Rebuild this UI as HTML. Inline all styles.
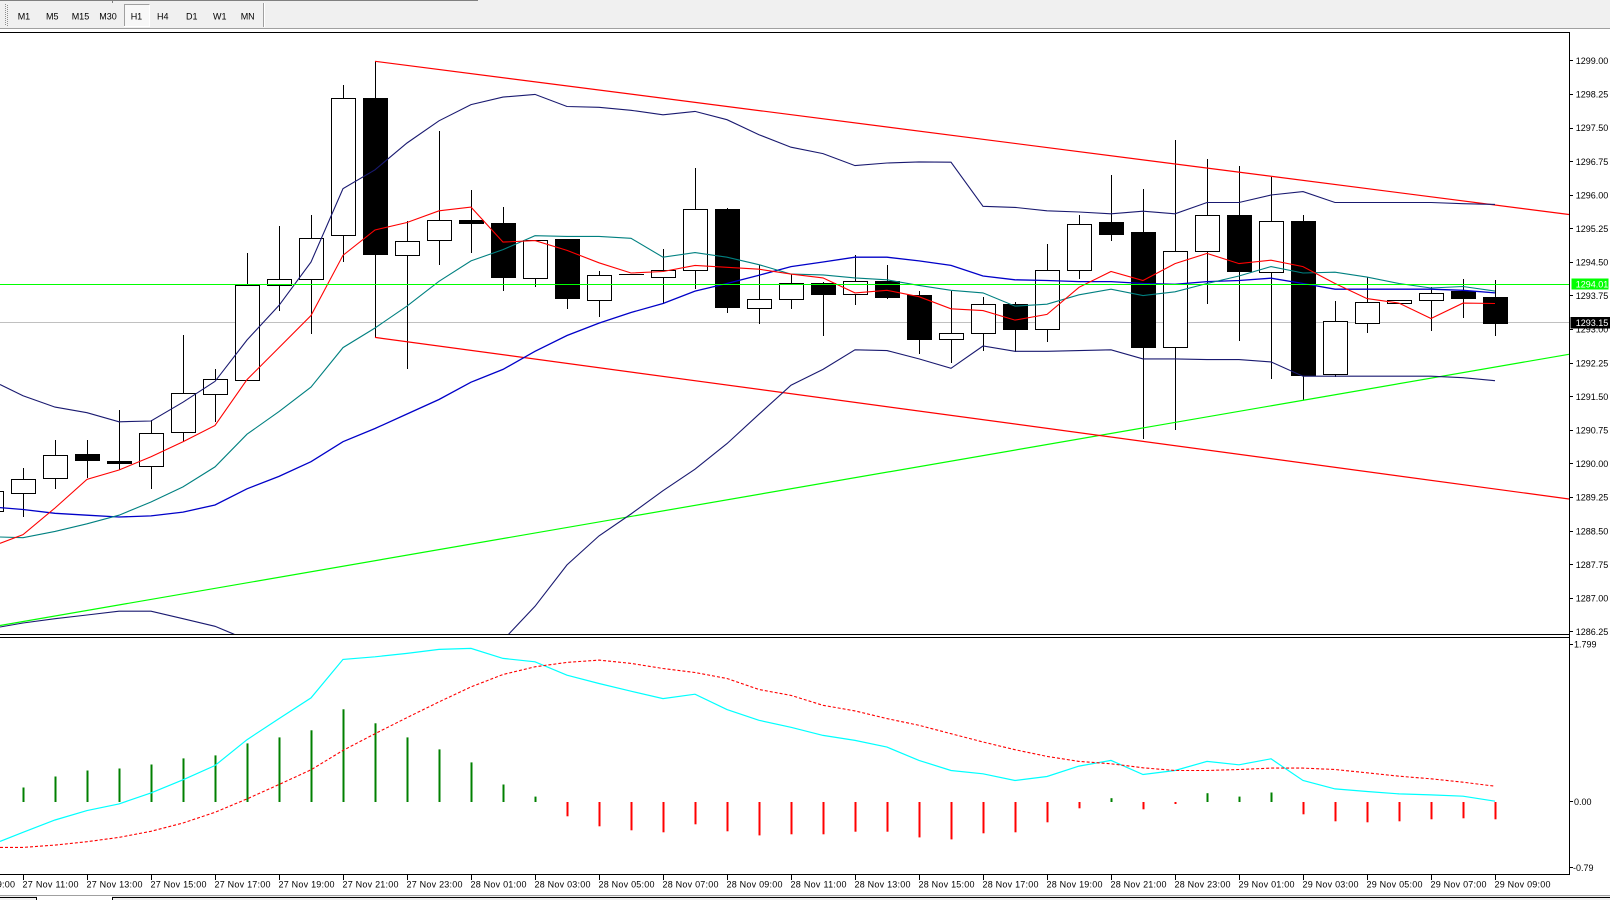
<!DOCTYPE html>
<html><head><meta charset="utf-8"><style>
html,body{margin:0;padding:0;background:#fff;}
svg{display:block;}
text{font-family:"Liberation Sans",Arial,sans-serif;font-size:9px;fill:#000;}
.w{fill:#fff;stroke:#000;stroke-width:1;}
.b{fill:#000;stroke:#000;stroke-width:1;}
</style></head><body>
<svg width="1610" height="900" viewBox="0 0 1610 900" xmlns="http://www.w3.org/2000/svg">
<defs>
<clipPath id="cm"><rect x="0" y="33" width="1569" height="601"/></clipPath>
<clipPath id="ci"><rect x="0" y="638" width="1569" height="236"/></clipPath>
</defs>
<rect x="0" y="0" width="1610" height="900" fill="#fff"/>
<!-- toolbar -->
<rect x="0" y="0" width="1610" height="28" fill="#f0f0f0"/>
<rect x="0" y="0" width="478" height="1" fill="#808080"/>
<rect x="112" y="0" width="1" height="3" fill="#808080"/>
<rect x="0" y="28" width="1610" height="1" fill="#a0a0a0"/>
<path d="M5.5 4V26M7.5 5V26" stroke="#909090" stroke-width="1" stroke-dasharray="1,1"/>
<rect x="124.5" y="4.5" width="25" height="22" fill="#f8f8f8" stroke="#fff"/>
<path d="M124.5 26V4.5H149.5" fill="none" stroke="#a0a0a0"/>
<rect x="263" y="3" width="1" height="24" fill="#a0a0a0"/>
<rect x="264" y="3" width="1" height="24" fill="#fff"/>
<g>
<text x="17.7" y="19.3">M1</text>
<text x="46" y="19.3">M5</text>
<text x="71.7" y="19.3">M15</text>
<text x="99.3" y="19.3">M30</text>
<text x="130.7" y="19.3">H1</text>
<text x="157" y="19.3">H4</text>
<text x="186" y="19.3">D1</text>
<text x="213" y="19.3">W1</text>
<text x="240.7" y="19.3">MN</text>
</g>
<!-- frame -->
<rect x="0" y="32" width="1570" height="1" fill="#000"/>
<rect x="1569" y="32" width="1" height="843" fill="#000"/>
<rect x="0" y="634" width="1570" height="1" fill="#000"/>
<rect x="0" y="637" width="1570" height="1" fill="#000"/>
<rect x="0" y="874" width="1570" height="1" fill="#000"/>

<!-- main chart -->
<g clip-path="url(#cm)">
<line x1="0" y1="322.5" x2="1569" y2="322.5" stroke="#c0c0c0" stroke-width="1"/>
<path fill="none" stroke="#000" stroke-width="1" d="M-8.5 480V520M23.5 468V517M55.5 440V489M87.5 440V478M119.5 410V470M151.5 420V489M183.5 335V442M215.5 369V422M247.5 253V380M279.5 226V311M311.5 215V334M343.5 85V262M375.5 61V338M407.5 221V369M439.5 131V265M471.5 190V253M503.5 207V291M535.5 240V287M567.5 239V309M599.5 271V317M663.5 249V304M695.5 168V289M727.5 208V313M759.5 265V324M791.5 274V309M823.5 282V336M855.5 255V305M887.5 265V299M919.5 291V354M951.5 291V363M983.5 297V351M1015.5 302V352M1047.5 244V342M1079.5 215V279M1111.5 175V241M1143.5 189V439M1175.5 140V430M1207.5 159V304M1239.5 166V341M1271.5 177V379M1303.5 215V400M1335.5 301V377M1367.5 277V333M1431.5 287V331M1463.5 279V318M1495.5 280V336M619 274.5H644"/>
<rect class="w" x="-20.5" y="491.5" width="24" height="20"/>
<rect class="w" x="11.5" y="479.5" width="24" height="14"/>
<rect class="w" x="43.5" y="455.5" width="24" height="23"/>
<rect class="b" x="75.5" y="454.5" width="24" height="6"/>
<rect class="b" x="107.5" y="461.5" width="24" height="2"/>
<rect class="w" x="139.5" y="433.5" width="24" height="33"/>
<rect class="w" x="171.5" y="393.5" width="24" height="39"/>
<rect class="w" x="203.5" y="379.5" width="24" height="15"/>
<rect class="w" x="235.5" y="285.5" width="24" height="95"/>
<rect class="w" x="267.5" y="279.5" width="24" height="6"/>
<rect class="w" x="299.5" y="238.5" width="24" height="41"/>
<rect class="w" x="331.5" y="98.5" width="24" height="137"/>
<rect class="b" x="363.5" y="98.5" width="24" height="156"/>
<rect class="w" x="395.5" y="241.5" width="24" height="14"/>
<rect class="w" x="427.5" y="220.5" width="24" height="20"/>
<rect class="b" x="459.5" y="220.5" width="24" height="3"/>
<rect class="b" x="491.5" y="223.5" width="24" height="54"/>
<rect class="w" x="523.5" y="240.5" width="24" height="38"/>
<rect class="b" x="555.5" y="239.5" width="24" height="59"/>
<rect class="w" x="587.5" y="275.5" width="24" height="25"/>
<rect class="w" x="651.5" y="270.5" width="24" height="7"/>
<rect class="w" x="683.5" y="209.5" width="24" height="61"/>
<rect class="b" x="715.5" y="209.5" width="24" height="98"/>
<rect class="w" x="747.5" y="299.5" width="24" height="9"/>
<rect class="w" x="779.5" y="283.5" width="24" height="16"/>
<rect class="b" x="811.5" y="283.5" width="24" height="11"/>
<rect class="w" x="843.5" y="281.5" width="24" height="13"/>
<rect class="b" x="875.5" y="281.5" width="24" height="16"/>
<rect class="b" x="907.5" y="295.5" width="24" height="44"/>
<rect class="w" x="939.5" y="333.5" width="24" height="6"/>
<rect class="w" x="971.5" y="304.5" width="24" height="29"/>
<rect class="b" x="1003.5" y="304.5" width="24" height="25"/>
<rect class="w" x="1035.5" y="270.5" width="24" height="59"/>
<rect class="w" x="1067.5" y="224.5" width="24" height="46"/>
<rect class="b" x="1099.5" y="222.5" width="24" height="12"/>
<rect class="b" x="1131.5" y="232.5" width="24" height="115"/>
<rect class="w" x="1163.5" y="251.5" width="24" height="96"/>
<rect class="w" x="1195.5" y="215.5" width="24" height="36"/>
<rect class="b" x="1227.5" y="215.5" width="24" height="56"/>
<rect class="w" x="1259.5" y="221.5" width="24" height="51"/>
<rect class="b" x="1291.5" y="221.5" width="24" height="154"/>
<rect class="w" x="1323.5" y="321.5" width="24" height="53"/>
<rect class="w" x="1355.5" y="302.5" width="24" height="21"/>
<rect class="w" x="1387.5" y="300.5" width="24" height="3"/>
<rect class="w" x="1419.5" y="293.5" width="24" height="7"/>
<rect class="b" x="1451.5" y="291.5" width="24" height="7"/>
<rect class="b" x="1483.5" y="297.5" width="24" height="26"/>

<!-- trend lines -->
<line x1="0" y1="625.5" x2="1569" y2="354.3" stroke="#00ff00" stroke-width="1.2"/>
<line x1="375" y1="61.3" x2="1569" y2="214.5" stroke="#ff0000" stroke-width="1.2"/>
<line x1="375" y1="337.4" x2="1569" y2="499" stroke="#ff0000" stroke-width="1.2"/>

<!-- bands -->
<polyline fill="none" stroke="#191970" stroke-width="1.1" points="0,384.5 23,395.8 55,407.1 87,412.7 119,421.8 151,421 183,402.2 215,381.4 247,340 279,305.4 311,262.1 343,188.6 375,169.8 407,143 439,120.8 471,104.6 503,97.1 535,94.4 567,106.5 599,107.3 631,110.3 663,114.8 695,111.4 727,119.7 759,134.7 791,147.2 823,153.6 855,165.6 887,163 919,161.9 951,162.2 983,206.3 1015,207.4 1047,210.8 1079,212 1111,213.8 1143,211.2 1175,213.8 1207,202.5 1239,202.5 1271,195 1303,191.6 1335,202.5 1367,202.5 1399,202.5 1431,202.5 1463,203.7 1495,204.4"/>
<polyline fill="none" stroke="#191970" stroke-width="1.1" points="0,627 23,623 55,618.7 87,615 119,611.2 151,611.2 183,618.7 215,626.3 233,633.8 247,640 279,655 375,680 471,660 503,640 508,634.9 535,606.3 567,564.9 599,535.9 631,514 663,490.7 695,469.2 727,443.6 759,414.2 791,385.2 823,369.4 855,349.8 887,350.6 919,358.9 951,368.3 983,346 1015,351.3 1047,351.3 1079,350.6 1111,349.8 1143,358.9 1175,358.9 1207,359.6 1239,359.6 1271,361.9 1303,376.2 1335,376.2 1367,376.2 1399,376.2 1431,376.2 1463,377.7 1495,380.7"/>
<!-- MAs -->
<polyline fill="none" stroke="#0000c8" stroke-width="1.3" points="0,507.6 23,509.5 55,513.3 87,515.2 119,517 151,515.9 183,512.1 215,505 247,488.8 279,476.4 311,461.7 343,441.7 375,428.5 407,414 439,399.5 471,382.2 503,369.4 535,351.3 567,335.5 599,323.1 631,312.5 663,303.5 695,291.1 727,283.5 759,275.2 791,266.6 823,262 855,257.2 887,257.2 919,260.9 951,265.4 983,276 1015,279.8 1047,280.5 1079,281.6 1111,281.6 1143,283.5 1175,284.3 1207,281.6 1239,280.5 1271,278.2 1303,283.5 1335,289.2 1367,289.2 1399,289.2 1431,289.2 1463,290.3 1495,292.9"/>
<polyline fill="none" stroke="#008080" stroke-width="1.1" points="0,537 23,537.7 55,531.4 87,523.8 119,515.2 151,502 183,486.9 215,466.9 247,434.2 279,411.6 311,387.1 343,347.6 375,328 407,306.1 439,281.3 471,260.9 503,249.6 535,235.7 567,236.4 599,236.4 631,238.3 663,257.2 695,252.6 727,257.2 759,264.7 791,274.1 823,274.9 855,277.9 887,279.8 919,285.4 951,290.3 983,292.9 1015,306.1 1047,304.2 1079,294.8 1111,289.2 1143,295.6 1175,291.8 1207,283.5 1239,276 1271,266.6 1303,273 1335,272.2 1367,277.1 1399,283.5 1431,288 1463,286.5 1495,291.1"/>
<polyline fill="none" stroke="#ff0000" stroke-width="1.1" points="0,543.4 23,534.7 55,508 87,479.4 119,470 151,456.8 183,441.7 215,425.5 247,379.6 279,347.6 311,315.5 343,255.3 375,230 407,222.5 439,210.8 471,207.1 503,242.1 535,240.6 567,250.4 599,262.8 631,273 663,271.5 695,265.4 727,267.3 759,269.2 791,274.1 823,277.9 855,292.9 887,290.3 919,296.7 951,308.8 983,310.6 1015,320.1 1047,314.4 1079,287.3 1111,271.5 1143,280.5 1175,263.6 1207,253.4 1239,263.6 1271,260.2 1303,266.6 1335,283.5 1367,298.6 1399,303.1 1431,318.5 1463,303.1 1495,303.5"/>
<line x1="0" y1="284.5" x2="1569" y2="284.5" stroke="#00ff00" stroke-width="1"/>
</g>

<!-- price axis -->
<path stroke="#000" stroke-width="1" d="M1569 60.5H1573M1569 94.5H1573M1569 128.5H1573M1569 161.5H1573M1569 195.5H1573M1569 228.5H1573M1569 262.5H1573M1569 295.5H1573M1569 329.5H1573M1569 363.5H1573M1569 396.5H1573M1569 430.5H1573M1569 463.5H1573M1569 497.5H1573M1569 531.5H1573M1569 564.5H1573M1569 598.5H1573M1569 631.5H1573"/>
<g>
<text x="1575.7" y="64">1299.00</text>
<text x="1575.7" y="97.6">1298.25</text>
<text x="1575.7" y="131.2">1297.50</text>
<text x="1575.7" y="164.8">1296.75</text>
<text x="1575.7" y="198.4">1296.00</text>
<text x="1575.7" y="232">1295.25</text>
<text x="1575.7" y="265.5">1294.50</text>
<text x="1575.7" y="299.1">1293.75</text>
<text x="1575.7" y="332.7">1293.00</text>
<text x="1575.7" y="366.3">1292.25</text>
<text x="1575.7" y="399.9">1291.50</text>
<text x="1575.7" y="433.5">1290.75</text>
<text x="1575.7" y="467.1">1290.00</text>
<text x="1575.7" y="500.7">1289.25</text>
<text x="1575.7" y="534.3">1288.50</text>
<text x="1575.7" y="567.9">1287.75</text>
<text x="1575.7" y="601.4">1287.00</text>
<text x="1575.7" y="635">1286.25</text>
</g>
<rect x="1571.5" y="278.5" width="37" height="11" fill="#00ff00"/>
<text x="1575.7" y="287.5" style="fill:#fff">1294.01</text>
<rect x="1570.5" y="317" width="39.5" height="11.5" fill="#000"/>
<text x="1575.7" y="326.2" style="fill:#fff">1293.15</text>

<!-- indicator -->
<g clip-path="url(#ci)">
<g fill="#008000">
<rect x="22.5" y="787.5" width="2" height="14.5"/>
<rect x="54.5" y="776.5" width="2" height="25.5"/>
<rect x="86.5" y="770.5" width="2" height="31.5"/>
<rect x="118.5" y="768.5" width="2" height="33.5"/>
<rect x="150.5" y="764.5" width="2" height="37.5"/>
<rect x="182.5" y="758.4" width="2" height="43.6"/>
<rect x="214.5" y="755.4" width="2" height="46.6"/>
<rect x="246.5" y="743.4" width="2" height="58.6"/>
<rect x="278.5" y="737.4" width="2" height="64.6"/>
<rect x="310.5" y="730.3" width="2" height="71.7"/>
<rect x="342.5" y="709.3" width="2" height="92.7"/>
<rect x="374.5" y="723.3" width="2" height="78.7"/>
<rect x="406.5" y="737.4" width="2" height="64.6"/>
<rect x="438.5" y="749.4" width="2" height="52.6"/>
<rect x="470.5" y="762.4" width="2" height="39.6"/>
<rect x="502.5" y="784.5" width="2" height="17.5"/>
<rect x="534.5" y="796.6" width="2" height="5.4"/>
<rect x="1110.5" y="798.2" width="2" height="3.8"/>
<rect x="1206.5" y="793.2" width="2" height="8.8"/>
<rect x="1238.5" y="796.6" width="2" height="5.4"/>
<rect x="1270.5" y="792.5" width="2" height="9.5"/>
</g>
<g fill="#ff0000">
<rect x="566.5" y="802" width="2" height="14.3"/>
<rect x="598.5" y="802" width="2" height="24.3"/>
<rect x="630.5" y="802" width="2" height="28.3"/>
<rect x="662.5" y="802" width="2" height="30.3"/>
<rect x="694.5" y="802" width="2" height="22.3"/>
<rect x="726.5" y="802" width="2" height="29.3"/>
<rect x="758.5" y="802" width="2" height="33.4"/>
<rect x="790.5" y="802" width="2" height="32.3"/>
<rect x="822.5" y="802" width="2" height="32.3"/>
<rect x="854.5" y="802" width="2" height="29.7"/>
<rect x="886.5" y="802" width="2" height="29.7"/>
<rect x="918.5" y="802" width="2" height="35.4"/>
<rect x="950.5" y="802" width="2" height="37.4"/>
<rect x="982.5" y="802" width="2" height="31.3"/>
<rect x="1014.5" y="802" width="2" height="30.3"/>
<rect x="1046.5" y="802" width="2" height="20.3"/>
<rect x="1078.5" y="802" width="2" height="6.3"/>
<rect x="1142.5" y="802" width="2" height="7.3"/>
<rect x="1174.5" y="802" width="2" height="2"/>
<rect x="1302.5" y="802" width="2" height="12.3"/>
<rect x="1334.5" y="802" width="2" height="19.3"/>
<rect x="1366.5" y="802" width="2" height="20.3"/>
<rect x="1398.5" y="802" width="2" height="19.3"/>
<rect x="1430.5" y="802" width="2" height="17.3"/>
<rect x="1462.5" y="802" width="2" height="16.3"/>
<rect x="1494.5" y="802" width="2" height="17.3"/>
</g>
<polyline fill="none" stroke="#00ffff" stroke-width="1.2" points="0,841.4 23,832.3 55,820 87,810.6 119,803.9 151,792.9 183,779.8 215,765.5 247,739.7 279,718.6 311,697.9 343,659.4 375,656.8 407,653.4 439,649.4 471,648.4 503,658.4 535,661.8 567,675.2 599,683.5 631,691.2 663,698.6 695,694.2 727,709.6 759,720.3 791,727.3 823,735.4 855,740.4 887,747.1 919,760.4 951,770.5 983,773.8 1015,780.5 1047,776.5 1079,766.1 1111,760.4 1143,774.5 1175,770.5 1207,761.4 1239,764.8 1271,758.8 1303,780.5 1335,788.9 1367,791.5 1399,793.9 1431,794.9 1463,796.2 1495,801.2"/>
<polyline fill="none" stroke="#ff0000" stroke-width="1.1" stroke-dasharray="3,2" points="0,847.4 23,847.4 55,845.1 87,841.7 119,837.4 151,831.3 183,823 215,812.3 247,798.9 279,784.5 311,769.8 343,750.4 375,733.7 407,717.6 439,701.9 471,686.9 503,674.5 535,666.8 567,662.4 599,660.1 631,663.4 663,668.5 695,672.5 727,678.5 759,689.5 791,695.4 823,705.3 855,710.9 887,718.6 919,725.3 951,733.7 983,742 1015,749.7 1047,756.4 1079,761.4 1111,763.8 1143,767.8 1175,770.5 1207,770.5 1239,769.5 1271,768.1 1303,768.1 1335,769.5 1367,772.8 1399,776.2 1431,778.8 1463,782.2 1495,786.2"/>
</g>
<path stroke="#000" stroke-width="1" d="M1569 644.5H1573M1569 801.5H1573M1569 867.5H1573"/>
<text x="1574" y="647.3">1.799</text>
<text x="1574" y="805">0.00</text>
<text x="1573" y="871">-0.79</text>

<!-- time axis -->
<path stroke="#000" stroke-width="1" d="M23.5 875V880M87.5 875V880M151.5 875V880M215.5 875V880M279.5 875V880M343.5 875V880M407.5 875V880M471.5 875V880M535.5 875V880M599.5 875V880M663.5 875V880M727.5 875V880M791.5 875V880M855.5 875V880M919.5 875V880M983.5 875V880M1047.5 875V880M1111.5 875V880M1175.5 875V880M1239.5 875V880M1303.5 875V880M1367.5 875V880M1431.5 875V880M1495.5 875V880"/>
<g>
<text x="-41" y="887.5" textLength="56">27 Nov 09:00</text>
<text x="22.5" y="887.5" textLength="56">27 Nov 11:00</text>
<text x="86.5" y="887.5" textLength="56">27 Nov 13:00</text>
<text x="150.5" y="887.5" textLength="56">27 Nov 15:00</text>
<text x="214.5" y="887.5" textLength="56">27 Nov 17:00</text>
<text x="278.5" y="887.5" textLength="56">27 Nov 19:00</text>
<text x="342.5" y="887.5" textLength="56">27 Nov 21:00</text>
<text x="406.5" y="887.5" textLength="56">27 Nov 23:00</text>
<text x="470.5" y="887.5" textLength="56">28 Nov 01:00</text>
<text x="534.5" y="887.5" textLength="56">28 Nov 03:00</text>
<text x="598.5" y="887.5" textLength="56">28 Nov 05:00</text>
<text x="662.5" y="887.5" textLength="56">28 Nov 07:00</text>
<text x="726.5" y="887.5" textLength="56">28 Nov 09:00</text>
<text x="790.5" y="887.5" textLength="56">28 Nov 11:00</text>
<text x="854.5" y="887.5" textLength="56">28 Nov 13:00</text>
<text x="918.5" y="887.5" textLength="56">28 Nov 15:00</text>
<text x="982.5" y="887.5" textLength="56">28 Nov 17:00</text>
<text x="1046.5" y="887.5" textLength="56">28 Nov 19:00</text>
<text x="1110.5" y="887.5" textLength="56">28 Nov 21:00</text>
<text x="1174.5" y="887.5" textLength="56">28 Nov 23:00</text>
<text x="1238.5" y="887.5" textLength="56">29 Nov 01:00</text>
<text x="1302.5" y="887.5" textLength="56">29 Nov 03:00</text>
<text x="1366.5" y="887.5" textLength="56">29 Nov 05:00</text>
<text x="1430.5" y="887.5" textLength="56">29 Nov 07:00</text>
<text x="1494.5" y="887.5" textLength="56">29 Nov 09:00</text>
</g>
<!-- bottom tabs -->
<rect x="0" y="895" width="1610" height="1" fill="#a0a0a0"/>
<rect x="0" y="896" width="1610" height="4" fill="#f0f0f0"/>
<rect x="0" y="897" width="37" height="1" fill="#000"/>
<rect x="36" y="897" width="1" height="3" fill="#000"/>
<rect x="37" y="896" width="75" height="4" fill="#fff"/>
<rect x="112" y="897" width="1498" height="1" fill="#000"/>
<rect x="112" y="897" width="1" height="3" fill="#000"/>
</svg>
</body></html>
